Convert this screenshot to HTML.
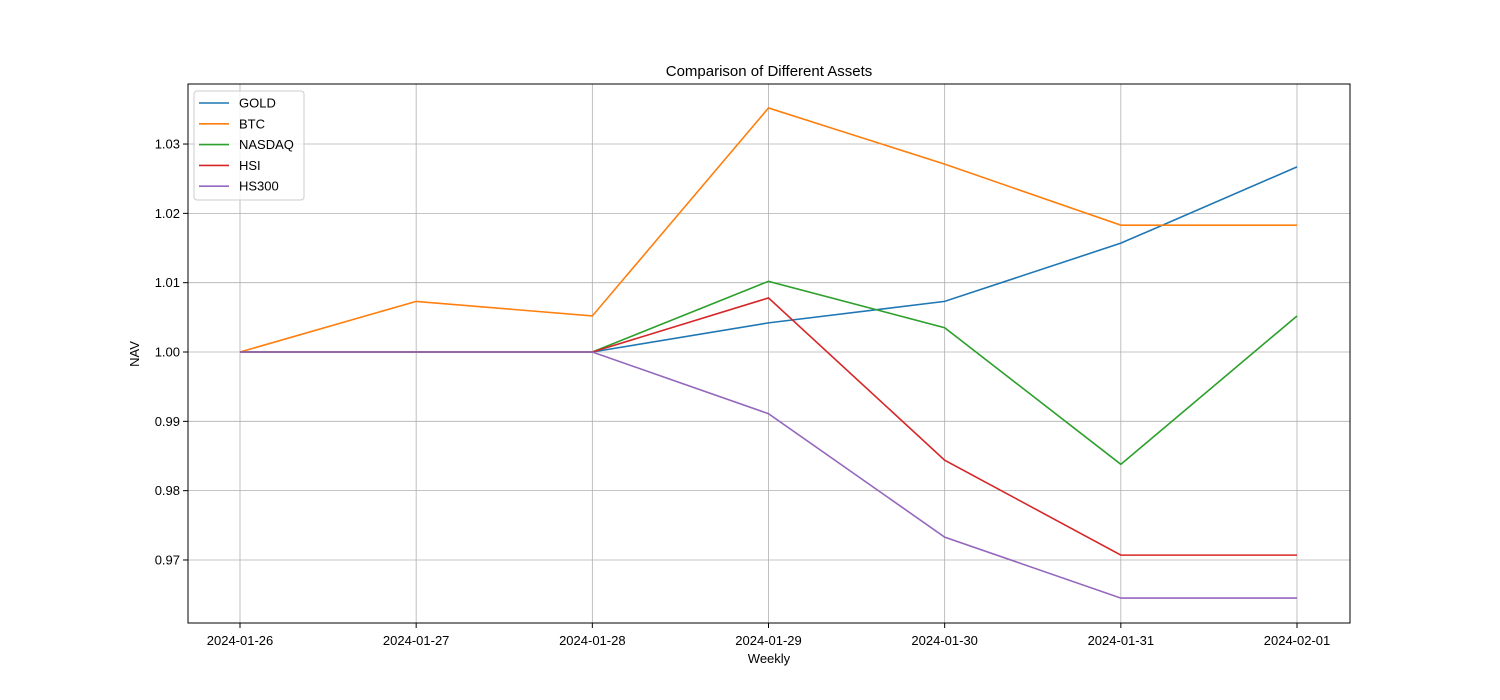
<!DOCTYPE html>
<html><head><meta charset="utf-8"><style>
body{margin:0;background:#fff;}
svg{display:block;font-family:"Liberation Sans","DejaVu Sans",sans-serif;}
</style></head><body>
<svg id="chart" width="1500" height="700">
<text x="769" y="76" text-anchor="middle" font-size="15">Comparison of Different Assets</text>
<text x="769" y="663" text-anchor="middle" font-size="13">Weekly</text>
<text x="139" y="354" text-anchor="middle" font-size="13" transform="rotate(-90 139 354)">NAV</text>
<g id="grid"></g><g id="ticks"></g><g id="lines"></g>
<rect x="188" y="84" width="1162" height="539" fill="none" stroke="#000" stroke-width="1"/>
<g id="legend"></g>
</svg>
<script>
const categories=["2024-01-26","2024-01-27","2024-01-28","2024-01-29","2024-01-30","2024-01-31","2024-02-01"];
const gold=[1,1,1,1.0042,1.0073,1.0157,1.0267];
const btc=[1,1.0073,1.0052,1.0352,1.0271,1.0183,1.0183];
const nasdaq=[1,1,1,1.0102,1.0035,0.9838,1.0052];
const hsi=[1,1,1,1.0078,0.9844,0.9707,0.9707];
const hs300=[1,1,1,0.9911,0.9733,0.9645,0.9645];
const yTicks=[0.97,0.98,0.99,1.00,1.01,1.02,1.03];
const seriesNames=["GOLD","BTC","NASDAQ","HSI","HS300"];
const seriesData=[gold,btc,nasdaq,hsi,hs300];
const colors=["#1f77b4","#ff7f0e","#2ca02c","#d62728","#9467bd"];
const NS="http://www.w3.org/2000/svg";
const L=188,R=1350,T=84,B=623;
const yMin=0.96091,yMax=1.03866;
const x=i=>240+i*(1297-240)/(categories.length-1);
const y=v=>B-(v-yMin)/(yMax-yMin)*(B-T);
function mk(tag,attrs,parent){const e=document.createElementNS(NS,tag);for(const k in attrs)e.setAttribute(k,attrs[k]);parent.appendChild(e);return e;}
const grid=document.getElementById('grid'),ticks=document.getElementById('ticks'),lines=document.getElementById('lines'),legend=document.getElementById('legend');
categories.forEach((c,i)=>{
 const g=mk('line',{x1:x(i),x2:x(i),y1:T,y2:B,stroke:'#b0b0b0','stroke-width':0.8},grid);
 
 
 mk('line',{x1:x(i),x2:x(i),y1:B,y2:B+5,stroke:'#000'},ticks);
 const t=mk('text',{x:x(i),y:B+22,'text-anchor':'middle','font-size':13},ticks);t.textContent=c;
 
 
});
yTicks.forEach(v=>{
 const g=mk('line',{x1:L,x2:R,y1:y(v),y2:y(v),stroke:'#b0b0b0','stroke-width':0.8},grid);
 
 
 mk('line',{x1:L-5,x2:L,y1:y(v),y2:y(v),stroke:'#000'},ticks);
 const t=mk('text',{x:L-8,y:y(v)+4.5,'text-anchor':'end','font-size':13},ticks);t.textContent=v.toFixed(2);
 
 
});
seriesData.forEach((d,s)=>{
 const p=mk('polyline',{points:d.map((v,i)=>x(i)+','+y(v)).join(' '),fill:'none',stroke:colors[s],'stroke-width':1.6},lines);
 
 
});
const box=mk('rect',{x:194,y:91,width:110,height:109,rx:3,fill:'#fff','fill-opacity':0.8,stroke:'#ccc'},legend);


seriesNames.forEach((n,s)=>{
 const yy=103+s*20.8;
 mk('line',{x1:199,x2:229,y1:yy,y2:yy,stroke:colors[s],'stroke-width':1.6},legend);
 const t=mk('text',{x:239,y:yy+4.5,'font-size':13},legend);t.textContent=n;
 
 
});
</script>
</body></html>
